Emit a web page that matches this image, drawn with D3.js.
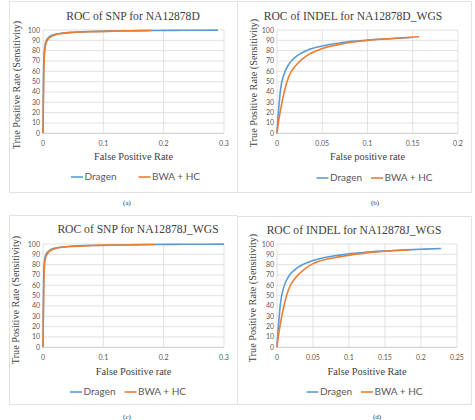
<!DOCTYPE html>
<html>
<head>
<meta charset="utf-8">
<script src="https://cdn.jsdelivr.net/npm/d3@7"></script>
<style>
  body { margin: 0; background: #fff; }
  svg { display: block; }
</style>
</head>
<body>
<svg id="chart" width="475" height="420"></svg>
<script>
// ROC points as [false positive rate, true positive rate %]
const snpDDragen = [[0,0],[0.001,60],[0.002,78],[0.003,84],[0.005,89],[0.008,92],[0.012,94],[0.02,95.8],[0.03,96.8],[0.05,97.8],[0.08,98.5],[0.12,99],[0.18,99.5],[0.24,99.7],[0.29,99.9]];
const snpDBwa = [[0,0],[0.001,50],[0.002,72],[0.003,80],[0.005,87],[0.008,90.5],[0.012,93],[0.02,95.2],[0.03,96.5],[0.05,97.6],[0.08,98.4],[0.12,99],[0.18,99.5]];

const indelDDragen = [[0,0],[0.001,14],[0.002,25],[0.004,43],[0.0077,57],[0.0132,67],[0.0206,74],[0.0335,80.5],[0.05,84.5],[0.074,88.2],[0.1,90.2],[0.125,91.6],[0.148,92.8]];
const indelDBwa = [[0,0],[0.001,7],[0.002,13],[0.004,23],[0.0077,39],[0.013,55],[0.0206,65.5],[0.0335,75.5],[0.05,82],[0.074,87],[0.1,90],[0.13,92],[0.157,93.5]];

const snpJDragen = [[0,0],[0.001,62],[0.002,80],[0.003,86],[0.005,90],[0.008,92.5],[0.012,94.3],[0.02,96],[0.03,97],[0.05,98],[0.08,98.6],[0.12,99.1],[0.18,99.5],[0.24,99.7],[0.3,99.9]];
const snpJBwa = [[0,0],[0.001,52],[0.002,74],[0.003,82],[0.005,88],[0.008,91],[0.012,93.5],[0.02,95.5],[0.03,96.7],[0.05,97.7],[0.08,98.5],[0.12,99],[0.185,99.5]];

const indelJDragen = [[0,0],[0.001,12],[0.0024,24],[0.0047,42],[0.0093,58],[0.016,68.5],[0.0255,75.5],[0.037,80.5],[0.05,84],[0.088,89.5],[0.12,91.8],[0.15,93.2],[0.18,94.3],[0.205,95],[0.228,95.6]];
const indelJBwa = [[0,0],[0.001,7],[0.0024,13],[0.0047,23],[0.0093,39],[0.016,56],[0.0255,67],[0.037,75],[0.05,81],[0.088,87.8],[0.12,91],[0.15,93],[0.185,94.5]];

const seriesNames = ["Dragen", "BWA + HC"];
const seriesColors = ["#5b9bd5", "#ed7d31"];
const yTicks = [0, 10, 20, 30, 40, 50, 60, 70, 80, 90, 100];
const snpXTicks = [0, 0.1, 0.2, 0.3];
const indelDXTicks = [0, 0.05, 0.1, 0.15, 0.2];
const indelJXTicks = [0, 0.05, 0.1, 0.15, 0.2, 0.25];

const panels = [
    { box: [9, 1, 228, 191], L: 43, R: 224, T: 30, B: 133.3, xTicks: snpXTicks,
      title: "ROC of SNP for NA12878D", titleX: 133, titleY: 20,
      xTitle: "False Positive Rate", xTitleY: 160, yTitleX: 20, yTitleY: 85,
      legendX: 135.5, legendY: 177, legendGap: 22, caption: "(a)", capX: 127, capY: 205,
      data: [snpDDragen, snpDBwa] },
    { box: [237, 1, 234, 191], L: 277, R: 458, T: 30, B: 133.3, xTicks: indelDXTicks,
      title: "ROC of INDEL for NA12878D_WGS", titleX: 353, titleY: 20,
      xTitle: "False positive rate", xTitleY: 160, yTitleX: 257, yTitleY: 83,
      legendX: 374.5, legendY: 178, legendGap: 9, caption: "(b)", capX: 375, capY: 205,
      data: [indelDDragen, indelDBwa] },
    { box: [9, 215, 228, 189], L: 43, R: 224, T: 244, B: 347.3, xTicks: snpXTicks,
      title: "ROC of SNP for NA12878J_WGS", titleX: 138, titleY: 232.5,
      xTitle: "False Positive rate", xTitleY: 374.5, yTitleX: 19, yTitleY: 300,
      legendX: 128, legendY: 392, legendGap: 9, caption: "(c)", capX: 127, capY: 419,
      data: [snpJDragen, snpJBwa] },
    { box: [237, 216, 234, 188], L: 277, R: 457, T: 244, B: 347.3, xTicks: indelJXTicks,
      title: "ROC of INDEL for NA12878J_WGS", titleX: 354, titleY: 233.5,
      xTitle: "False Positive Rate", xTitleY: 374.5, yTitleX: 256, yTitleY: 298,
      legendX: 364.5, legendY: 392, legendGap: 9, caption: "(d)", capX: 377, capY: 419,
      data: [indelJDragen, indelJBwa] }
];

const svg = d3.select("#chart");
const serif = "'Liberation Serif', 'Times New Roman', serif";
const sans = "Lato, 'Liberation Sans', sans-serif";

function drawPanel(p) {
    const g = svg.append("g");

    // panel frame
    g.append("rect")
        .attr("x", p.box[0] + 0.5).attr("y", p.box[1] + 0.5)
        .attr("width", p.box[2]).attr("height", p.box[3])
        .attr("fill", "none").attr("stroke", "#e3e3e3");

    const x = d3.scaleLinear().domain([p.xTicks[0], p.xTicks[p.xTicks.length - 1]]).range([p.L, p.R]);
    const y = d3.scaleLinear().domain([0, 100]).range([p.B, p.T]);

    // gridlines
    g.append("g").selectAll("line").data(yTicks).join("line")
        .attr("x1", p.L).attr("x2", p.R)
        .attr("y1", d => y(d)).attr("y2", d => y(d))
        .attr("stroke", d => d === 0 ? "#bfbfbf" : "#d9d9d9").attr("stroke-width", 0.8);
    g.append("g").selectAll("line").data(p.xTicks).join("line")
        .attr("x1", d => x(d)).attr("x2", d => x(d))
        .attr("y1", p.T).attr("y2", p.B)
        .attr("stroke", "#d9d9d9").attr("stroke-width", 0.8);

    // tick labels
    g.append("g").selectAll("text").data(yTicks).join("text")
        .attr("x", p.L - 3).attr("y", d => y(d) + 2.5)
        .attr("text-anchor", "end")
        .style("font-family", sans).style("font-size", "7px").attr("fill", "#595959")
        .text(d => d);
    g.append("g").selectAll("text").data(p.xTicks).join("text")
        .attr("x", d => x(d)).attr("y", p.B + 13)
        .attr("text-anchor", "middle")
        .style("font-family", sans).style("font-size", "7px").attr("fill", "#595959")
        .text(d => d);

    // curves, Dragen first so BWA + HC sits on top
    const line = d3.line().x(d => x(d[0])).y(d => y(d[1])).curve(d3.curveMonotoneX);
    p.data.forEach((pts, i) => {
        g.append("path").datum(pts)
            .attr("d", line)
            .attr("fill", "none")
            .attr("stroke", seriesColors[i])
            .attr("stroke-width", 1.6)
            .attr("stroke-linejoin", "round");
    });

    // titles
    g.append("text").attr("x", p.titleX).attr("y", p.titleY)
        .attr("text-anchor", "middle")
        .style("font-family", serif).style("font-size", "11.6px").attr("fill", "#404040")
        .text(p.title);
    g.append("text").attr("x", (p.L + p.R) / 2).attr("y", p.xTitleY)
        .attr("text-anchor", "middle")
        .style("font-family", serif).style("font-size", "10.3px").attr("fill", "#404040")
        .text(p.xTitle);
    g.append("text")
        .attr("transform", `translate(${p.yTitleX},${p.yTitleY}) rotate(-90)`)
        .attr("text-anchor", "middle")
        .style("font-family", serif).style("font-size", "10.2px").attr("fill", "#404040")
        .text("True Positive Rate (Sensitivity)");

    // legend
    const leg = g.append("g");
    let cx = 0;
    seriesNames.forEach((name, i) => {
        leg.append("line")
            .attr("x1", cx).attr("x2", cx + 12)
            .attr("y1", 0).attr("y2", 0)
            .attr("stroke", seriesColors[i]).attr("stroke-width", 1.6);
        const t = leg.append("text")
            .attr("x", cx + 13.5).attr("y", 3.4)
            .style("font-family", sans).style("font-size", "10px").attr("fill", "#595959")
            .text(name);
        cx += 13.5 + t.node().getComputedTextLength() + p.legendGap;
    });
    const legW = cx - p.legendGap;
    leg.attr("transform", `translate(${p.legendX - legW / 2},${p.legendY})`);

    // caption
    g.append("text").attr("x", p.capX).attr("y", p.capY)
        .attr("text-anchor", "middle")
        .style("font-family", serif).style("font-size", "7px").attr("fill", "#333")
        .text(p.caption);
}

panels.forEach(drawPanel);
</script>
</body>
</html>
